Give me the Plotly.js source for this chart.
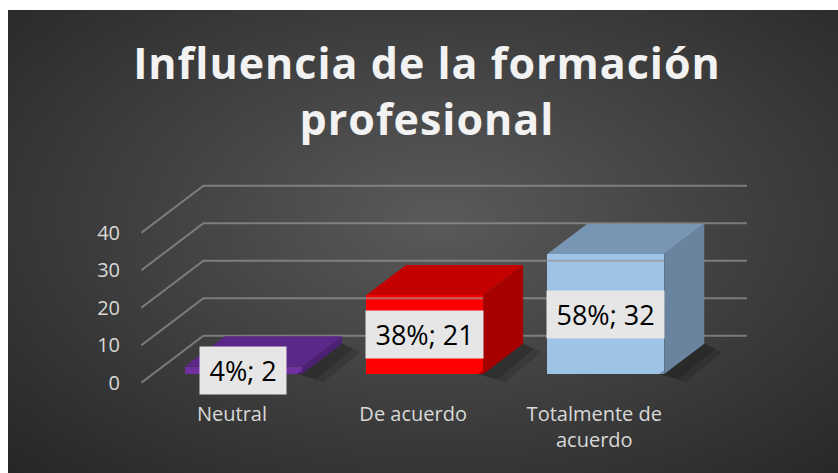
<!DOCTYPE html>
<html>
<head>
<meta charset="utf-8">
<script src="https://cdn.plot.ly/plotly-3.0.1.min.js"></script>
<style>
  html, body { margin: 0; padding: 0; background: #ffffff; }
  #wrap { position: relative; width: 838px; height: 473px; overflow: hidden; }
  #bg { position: absolute; left: 8px; top: 10px; width: 830px; height: 463px;
        background: radial-gradient(ellipse farthest-corner at 52% 45%, #5a5a5a 0%, #474747 35%, #262626 100%); }
  #chart { position: absolute; left: 0; top: 0; width: 838px; height: 473px; }
  .gtitle { letter-spacing: 1px; }
</style>
</head>
<body>
<div id="wrap"><div id="bg"></div><div id="chart"></div></div>
<script>
// ---- data ----
const categories = ["Neutral", "De acuerdo", "Totalmente de<br>acuerdo"];
const values = [2, 21, 32];
const percents = ["4%", "38%", "58%"];
const tickValsY = [0, 10, 20, 30, 40];
const tickTextY = ["0", "10", "20", "30", "40"];

// ---- styles / geometry ----
const frontColors = ["#7030a0", "#ff0000", "#9dc3e6"];
const topColors   = ["#5b2889", "#c40000", "#7895b4"];
const sideColors  = ["#4c2174", "#a60000", "#6a849f"];

const W = 838, H = 473, L = 141, R = 81, T = 183, B = 81;
const X0px = 232, XSTEP = 181.15;     // front-plane category spacing (px)
const Y0px = 382.7, YSTEP = 3.75;     // px per value unit
const DX = 62, DY = 47;               // full depth offset in px
const dxu = DX / XSTEP, dyu = DY / YSTEP;
const d0 = 0.185, d1 = 0.83;          // bar front/back depth fractions
const hw = 58.5 / XSTEP;              // bar half width

const xr = [(L - X0px) / XSTEP, (W - R - X0px) / XSTEP];
const yr = [(Y0px - (H - B)) / YSTEP, (Y0px - T) / YSTEP];

const traces = [];

// back-wall / floor gridlines (perspective)
const gx = [], gy = [];
const xl = -0.5, xrFront = categories.length - 0.5;
tickValsY.forEach(v => {
  gx.push(xl, xl + dxu, xrFront + dxu, null);
  gy.push(v, v + dyu, v + dyu, null);
});
traces.push({type: "scatter", mode: "lines", x: gx, y: gy, hoverinfo: "skip",
  line: {color: "rgba(150,150,150,0.7)", width: 2}, showlegend: false});

// soft shadows
categories.forEach((c, i) => {
  const xa = i + hw + d0 * dxu, xb = i + hw + d1 * dxu;
  [[0.10, 2.2, 0.14], [0.06, 1.4, 0.16]].forEach(s => {
    traces.push({type: "scatter", mode: "lines", fill: "toself", hoverinfo: "skip", showlegend: false,
      x: [xa - 0.03, xb, xb + s[0], xa + s[0] + 0.02, xa - 0.03],
      y: [d0 * dyu, d1 * dyu, d1 * dyu - s[1], d0 * dyu - s[1], d0 * dyu],
      line: {width: 0}, fillcolor: "rgba(0,0,0," + s[2] + ")"});
  });
});

// top and side faces
categories.forEach((c, i) => {
  const v = values[i];
  const l0 = i - hw + d0 * dxu, r0 = i + hw + d0 * dxu;
  const l1 = i - hw + d1 * dxu, r1 = i + hw + d1 * dxu;
  const b0 = d0 * dyu, b1 = d1 * dyu;
  traces.push({type: "scatter", mode: "lines", fill: "toself", hoverinfo: "skip", showlegend: false,
    x: [r0, r1, r1, r0, r0], y: [b0, b1, b1 + v, b0 + v, b0],
    line: {width: 0}, fillcolor: sideColors[i]});
  traces.push({type: "scatter", mode: "lines", fill: "toself", hoverinfo: "skip", showlegend: false,
    x: [l0, r0, r1, l1, l0], y: [b0 + v, b0 + v, b1 + v, b1 + v, b0 + v],
    line: {width: 0}, fillcolor: topColors[i]});
});

// front faces
traces.push({type: "bar", x: categories.map((c, i) => i + d0 * dxu), y: values,
  base: values.map(() => d0 * dyu), width: 2 * hw,
  marker: {color: frontColors, line: {width: 0}}, hoverinfo: "skip", showlegend: false});

const annotations = categories.map((c, i) => ({
  x: i + d0 * dxu, y: d0 * dyu + values[i] / 2, xref: "x", yref: "y",
  text: "\u2009" + percents[i] + "; " + values[i] + "\u2009",
  showarrow: false, bgcolor: "#e6e6e6", borderpad: 5,
  font: {family: "Open Sans", size: 27, color: "#000000"},
  xanchor: "center", yanchor: "middle"
}));

const layout = {
  width: W, height: H,
  paper_bgcolor: "rgba(0,0,0,0)", plot_bgcolor: "rgba(0,0,0,0)",
  margin: {l: L, r: R, t: T, b: B, pad: 0},
  title: {text: "Influencia de la formación<br>profesional",
    font: {family: "Open Sans", size: 43, color: "#f2f2f2", weight: "bold"},
    x: 427 / W, xanchor: "center", xref: "container",
    y: 1 - 79 / H, yanchor: "top", yref: "container"},
  xaxis: {range: xr, showgrid: false, zeroline: false, showline: false,
    tickvals: categories.map((c, i) => i), ticktext: categories, ticks: "", ticklabelstandoff: 8,
    tickfont: {family: "Open Sans", size: 20, color: "#d9d9d9"}, fixedrange: true},
  yaxis: {range: yr, showgrid: false, zeroline: false, showline: false,
    tickvals: tickValsY, ticktext: tickTextY, ticks: "", ticklabelstandoff: 20,
    tickfont: {family: "Open Sans", size: 20, color: "#d9d9d9"}, fixedrange: true},
  bargap: 0,
  annotations: annotations,
  showlegend: false
};

Plotly.newPlot("chart", traces, layout, {displayModeBar: false, staticPlot: true});
</script>
</body>
</html>
